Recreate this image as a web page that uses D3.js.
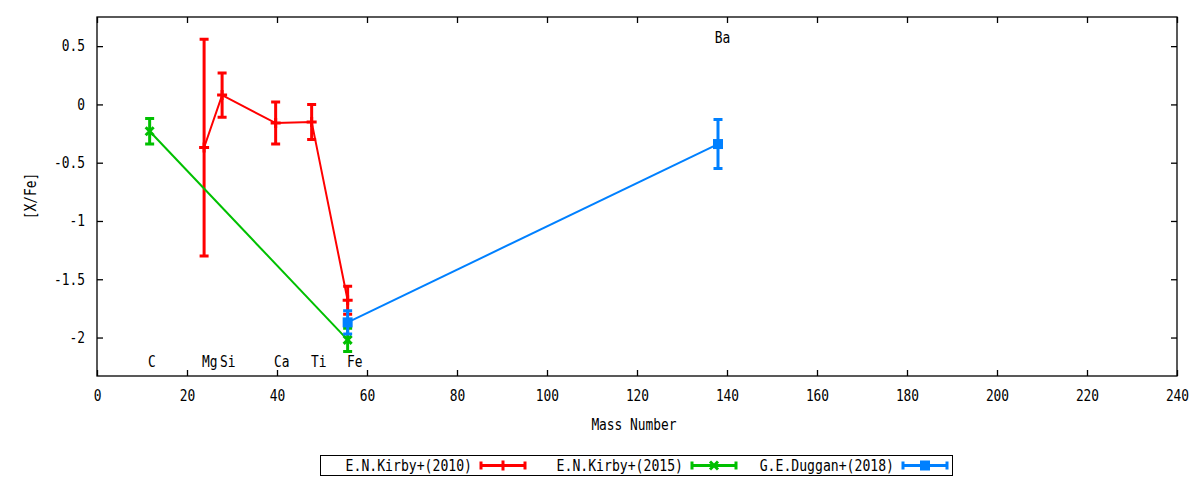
<!DOCTYPE html>
<html>
<head>
<meta charset="utf-8">
<script src="https://cdn.jsdelivr.net/npm/d3@7"></script>
<style>
  body { margin: 0; background: #fff; }
  text { font-family: "DejaVu Sans Mono", monospace; font-size: 15px; fill: #000; }
</style>
</head>
<body>
<svg width="1200" height="480"></svg>
<script>
// E.N.Kirby+(2010)
var k10Mass = [23.8, 27.8, 39.7, 47.7, 55.7];
var k10Val  = [-0.37, 0.08, -0.16, -0.15, -1.68];
var k10Err  = [0.93, 0.19, 0.18, 0.15, 0.12];
// E.N.Kirby+(2015)
var k15Mass = [11.7, 55.7];
var k15Val  = [-0.23, -2.02];
var k15Err  = [0.11, 0.10];
// G.E.Duggan+(2018)
var d18Mass = [55.7, 138.0];
var d18Val  = [-1.87, -0.34];
var d18Err  = [0.10, 0.21];

// element labels
var elemNames = ["C", "Mg", "Si", "Ca", "Ti", "Fe", "Ba"];
var elemMass  = [11.8, 23.8, 27.8, 39.8, 48.0, 56.0, 137.7];
var elemY     = [-2.2, -2.2, -2.2, -2.2, -2.2, -2.2, 0.58];

var xTicks = [0, 20, 40, 60, 80, 100, 120, 140, 160, 180, 200, 220, 240];
var yTicks = [0.5, 0, -0.5, -1, -1.5, -2];

var legendNames = ["E.N.Kirby+(2010)", "E.N.Kirby+(2015)", "G.E.Duggan+(2018)"];

var box = {left: 97, right: 1177, top: 17, bottom: 376};

var svg = d3.select("svg");
var xScale = d3.scaleLinear().domain([0, 240]).range([box.left, box.right]);
var yScale = d3.scaleLinear().domain([-2.33, 0.75]).range([box.bottom, box.top]);

var fmt = function(d) { return String(d); };

// the gnuplot font is narrow, squeeze each text to a fixed width per char
var squeeze = function(sel, w) {
  w = w || 7.75;
  sel.each(function(){
    var t = d3.select(this), s = t.text();
    if (s.length) t.attr("textLength", s.length * w).attr("lengthAdjust", "spacingAndGlyphs");
  });
};

// axes, ticks point inwards, mirrored on top and right
svg.append("g")
  .attr("transform", "translate(0," + box.bottom + ")")
  .call(d3.axisBottom(xScale).tickValues(xTicks).tickFormat(fmt).tickSize(-6).tickPadding(14))
  .call(function(g){ g.select(".domain").remove(); });
svg.append("g")
  .attr("transform", "translate(0," + box.top + ")")
  .call(d3.axisTop(xScale).tickValues(xTicks).tickFormat("").tickSize(-6))
  .call(function(g){ g.select(".domain").remove(); });
svg.append("g")
  .attr("transform", "translate(" + box.left + ",0)")
  .call(d3.axisLeft(yScale).tickValues(yTicks).tickFormat(fmt).tickSize(-6).tickPadding(12))
  .call(function(g){ g.select(".domain").remove(); });
svg.append("g")
  .attr("transform", "translate(" + box.right + ",0)")
  .call(d3.axisRight(yScale).tickValues(yTicks).tickFormat("").tickSize(-6))
  .call(function(g){ g.select(".domain").remove(); });

svg.selectAll(".tick line").attr("stroke", "#000").attr("stroke-width", 1.3);
svg.selectAll(".tick text").style("font-family", "DejaVu Sans Mono").style("font-size", "15px").call(squeeze);

svg.append("rect")
  .attr("x", box.left).attr("y", box.top)
  .attr("width", box.right - box.left).attr("height", box.bottom - box.top)
  .attr("fill", "none").attr("stroke", "#000").attr("stroke-width", 1.3);

svg.append("text")
  .attr("x", 634).attr("y", 430)
  .attr("text-anchor", "middle")
  .text("Mass Number")
  .call(squeeze);
svg.append("text")
  .attr("transform", "translate(36,196) rotate(-90)")
  .attr("text-anchor", "middle")
  .text("[X/Fe]")
  .call(squeeze);

// element labels
svg.selectAll(".elem")
  .data(elemNames)
  .enter()
  .append("text")
  .attr("x", function(d, i){ return xScale(elemMass[i]) - 2; })
  .attr("y", function(d, i){ return yScale(elemY[i]); })
  .attr("dy", "0.4em")
  .text(function(d){ return d; })
  .call(squeeze);

var lineGen = d3.line()
  .x(function(p){ return xScale(p.m); })
  .y(function(p){ return yScale(p.v); });

var marker = function(g, type, cx, cy, color) {
  if (type == "plus") {
    g.append("path").attr("d", "M" + (cx-5) + "," + cy + "H" + (cx+5) + "M" + cx + "," + (cy-5) + "V" + (cy+5))
      .attr("stroke", color).attr("stroke-width", 3).attr("fill", "none");
  } else if (type == "cross") {
    g.append("path").attr("d", "M" + (cx-4) + "," + (cy-4) + "L" + (cx+4) + "," + (cy+4) + "M" + (cx-4) + "," + (cy+4) + "L" + (cx+4) + "," + (cy-4))
      .attr("stroke", color).attr("stroke-width", 3).attr("fill", "none");
  } else {
    g.append("rect").attr("x", cx-5).attr("y", cy-5).attr("width", 10).attr("height", 10).attr("fill", color);
  }
};

var drawSeries = function(mass, vals, errs, color, type) {
  var pts = mass.map(function(m, i){ return {m: m, v: vals[i], e: errs[i]}; });
  var g = svg.append("g");
  g.append("path")
    .datum(pts)
    .attr("d", lineGen)
    .attr("fill", "none")
    .attr("stroke", color)
    .attr("stroke-width", 2);
  pts.forEach(function(p){
    var cx = xScale(p.m), y1 = yScale(p.v + p.e), y2 = yScale(p.v - p.e);
    g.append("path")
      .attr("d", "M" + cx + "," + y1 + "V" + y2 + "M" + (cx-4.5) + "," + y1 + "H" + (cx+4.5) + "M" + (cx-4.5) + "," + y2 + "H" + (cx+4.5))
      .attr("stroke", color).attr("stroke-width", 3).attr("fill", "none");
    marker(g, type, cx, yScale(p.v), color);
  });
};

var colors = ["#ff0000", "#00c000", "#0080ff"];
var types = ["plus", "cross", "square"];
drawSeries(k10Mass, k10Val, k10Err, colors[0], types[0]);
drawSeries(k15Mass, k15Val, k15Err, colors[1], types[1]);
drawSeries(d18Mass, d18Val, d18Err, colors[2], types[2]);

// legend
svg.append("rect")
  .attr("x", 320.5).attr("y", 455.5).attr("width", 632).attr("height", 20)
  .attr("fill", "none").attr("stroke", "#000").attr("stroke-width", 1);
legendNames.forEach(function(name, i){
  var x0 = 472 + i * 211, ly = 465.5;
  var g = svg.append("g");
  g.append("text").attr("x", x0).attr("y", ly).attr("dy", "0.36em")
    .attr("text-anchor", "end").text(name).call(squeeze, 7.9);
  g.append("path")
    .attr("d", "M" + (x0+9) + "," + ly + "H" + (x0+53) + "M" + (x0+9) + "," + (ly-4) + "V" + (ly+4) + "M" + (x0+53) + "," + (ly-4) + "V" + (ly+4))
    .attr("stroke", colors[i]).attr("stroke-width", 3).attr("fill", "none");
  marker(g, types[i], x0 + 31, ly, colors[i]);
});
</script>
</body>
</html>
